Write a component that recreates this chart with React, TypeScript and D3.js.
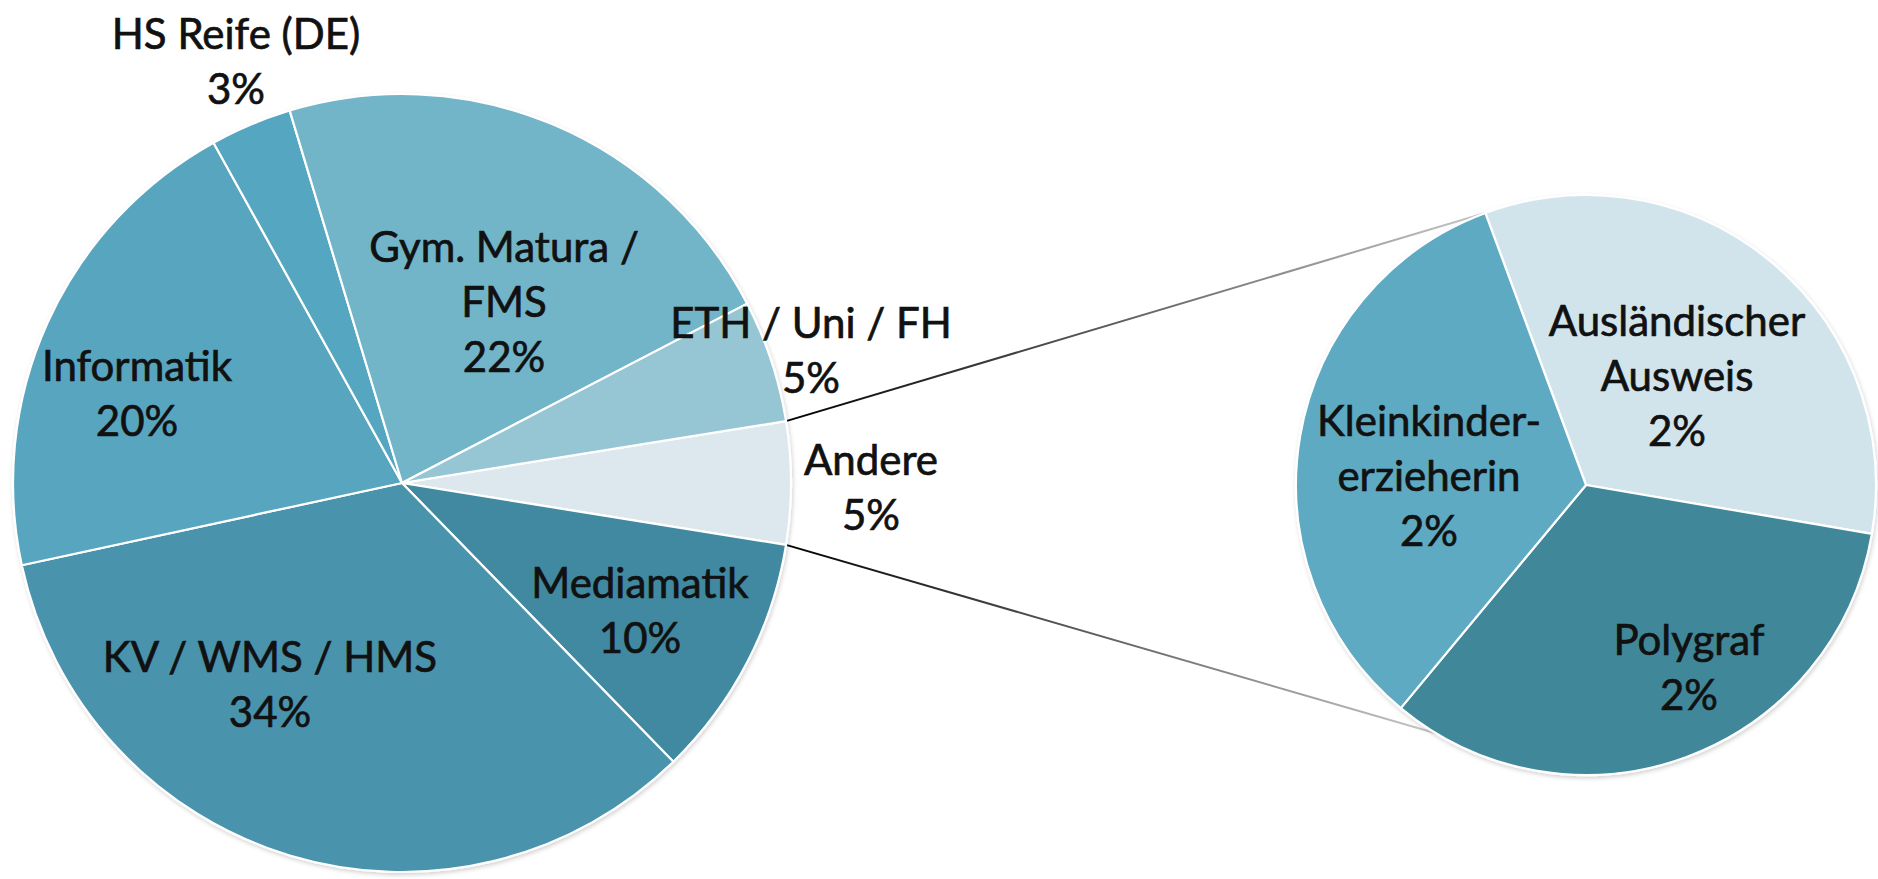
import React from "react";
import * as d3 from "d3";

// ---- Data ----
const mainCategories = ["Andere", "Mediamatik", "KV / WMS / HMS", "Informatik", "HS Reife (DE)", "Gym. Matura / FMS", "ETH / Uni / FH"];
const mainValues = [3, 6, 20, 12, 2, 13, 3];
const mainLabelLines = [["Andere"], ["Mediamatik"], ["KV / WMS / HMS"], ["Informatik"], ["HS Reife (DE)"], ["Gym. Matura /", "FMS"], ["ETH / Uni / FH"]];

const subCategories = ["Ausländischer Ausweis", "Polygraf", "Kleinkindererzieherin"];
const subValues = [1, 1, 1];
const subLabelLines = [["Ausländischer", "Ausweis"], ["Polygraf"], ["Kleinkinder-", "erzieherin"]];

const total = d3.sum(mainValues);

// ---- Styling / layout ----
const W = 1878, H = 879;
const mainC = { x: 402, y: 483, r: 389 };
const subC = { x: 1586, y: 485, r: 290 };
const mainColors = ["#dce8ee", "#3f89a0", "#4893ac", "#58a5bf", "#55a6c1", "#72b5c9", "#96c5d4"];
const subColors = ["#d1e4ec", "#3f8899", "#5daac2"];
// label anchor (first line centre) relative to pie centre
const mainLabelPos = [[469, -23], [238, 100], [-132, 174], [-265, -117], [-166, -449], [102, -236], [409, -160]];
const subLabelPos = [[91, -164], [103, 155], [-157, -64]];
const LINE = 55;
const FONT = 42;
const subStartDeg = 339.7; // d3 angle (clockwise from 12 o'clock)
const connectorBottomDeg = 211; // d3 angle on secondary pie

function Label({ x, y, lines }: { x: number; y: number; lines: string[] }) {
  return (
    <text x={x} y={y} textAnchor="middle" fontFamily="Lato, 'Open Sans', sans-serif" fontSize={FONT}
      fill="#111" stroke="#111" strokeWidth={0.7}>
      {lines.map((l, i) => (
        <tspan key={i} x={x} y={y + i * LINE + FONT * 0.35}>{l}</tspan>
      ))}
    </text>
  );
}

export default function App() {
  const half = (mainValues[0] / total) * Math.PI;
  const mainPie = d3.pie<number>().sort(null).value((d) => d)
    .startAngle(Math.PI / 2 - half).endAngle(Math.PI / 2 - half + 2 * Math.PI);
  const mainArcs = mainPie(mainValues);
  const arcMain = d3.arc<d3.PieArcDatum<number>>().innerRadius(0).outerRadius(mainC.r);

  const s0 = (subStartDeg * Math.PI) / 180;
  const subPie = d3.pie<number>().sort(null).value((d) => d).startAngle(s0).endAngle(s0 + 2 * Math.PI);
  const subArcs = subPie(subValues);
  const arcSub = d3.arc<d3.PieArcDatum<number>>().innerRadius(0).outerRadius(subC.r);

  const pt = (c: { x: number; y: number }, r: number, a: number) => [c.x + r * Math.sin(a), c.y - r * Math.cos(a)];
  const andere = mainArcs[0];
  const pTopMain = pt(mainC, mainC.r, andere.startAngle);
  const pBotMain = pt(mainC, mainC.r, andere.endAngle);
  const pTopSub = pt(subC, subC.r, subArcs[0].startAngle);
  const pBotSub = pt(subC, subC.r, (connectorBottomDeg * Math.PI) / 180);

  const pctMain = mainValues.map((v) => `${Math.round((v / total) * 100)}%`);
  const pctSub = subValues.map((v) => `${Math.round((v / total) * 100)}%`);

  return (
    <svg width={W} height={H} style={{ position: "absolute", left: 0, top: 0, background: "#fff" }}>
      <defs>
        <linearGradient id="connTop" gradientUnits="userSpaceOnUse" x1={pTopMain[0]} y1={pTopMain[1]} x2={pTopSub[0]} y2={pTopSub[1]}>
          <stop offset="0" stopColor="#000" />
          <stop offset="1" stopColor="#c8c8c8" />
        </linearGradient>
        <linearGradient id="connBot" gradientUnits="userSpaceOnUse" x1={pBotMain[0]} y1={pBotMain[1]} x2={pBotSub[0]} y2={pBotSub[1]}>
          <stop offset="0" stopColor="#000" />
          <stop offset="1" stopColor="#c8c8c8" />
        </linearGradient>
        <filter id="sh" x="-10%" y="-10%" width="120%" height="120%">
          <feDropShadow dx="1" dy="2" stdDeviation="2" floodColor="#000" floodOpacity="0.18" />
        </filter>
      </defs>
      <line x1={pTopMain[0]} y1={pTopMain[1]} x2={pTopSub[0]} y2={pTopSub[1]} stroke="url(#connTop)" strokeWidth={2} />
      <line x1={pBotMain[0]} y1={pBotMain[1]} x2={pBotSub[0]} y2={pBotSub[1]} stroke="url(#connBot)" strokeWidth={2} />
      <g transform={`translate(${mainC.x},${mainC.y})`} filter="url(#sh)">
        {mainArcs.map((a, i) => (
          <path key={i} d={arcMain(a) || ""} fill={mainColors[i]} stroke="#fff" strokeWidth={2.2} strokeLinejoin="round" />
        ))}
      </g>
      <g transform={`translate(${subC.x},${subC.y})`} filter="url(#sh)">
        {subArcs.map((a, i) => (
          <path key={i} d={arcSub(a) || ""} fill={subColors[i]} stroke="#fff" strokeWidth={2.2} strokeLinejoin="round" />
        ))}
      </g>
      {mainArcs.map((a, i) => (
        <Label key={i} x={mainC.x + mainLabelPos[i][0]} y={mainC.y + mainLabelPos[i][1]} lines={[...mainLabelLines[i], pctMain[i]]} />
      ))}
      {subArcs.map((a, i) => (
        <Label key={i} x={subC.x + subLabelPos[i][0]} y={subC.y + subLabelPos[i][1]} lines={[...subLabelLines[i], pctSub[i]]} />
      ))}
    </svg>
  );
}
